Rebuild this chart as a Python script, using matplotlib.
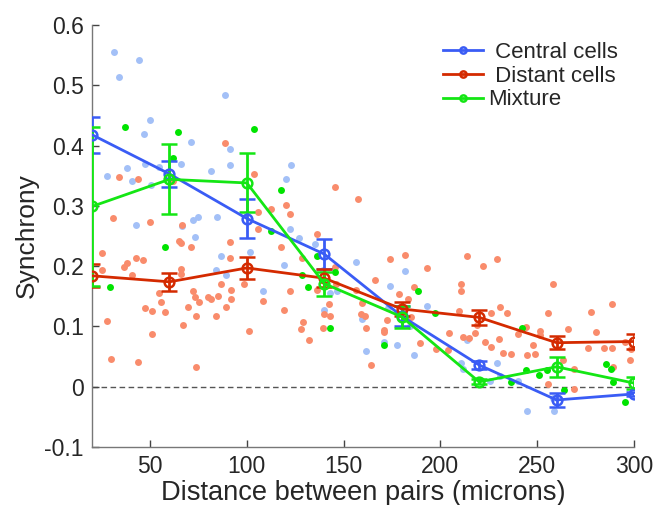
import matplotlib.pyplot as plt
from matplotlib.lines import Line2D

# bin centres for the averaged curves
dist = [20, 60, 100, 140, 180, 220, 260, 300]

central_mean = [0.418, 0.353, 0.279, 0.220, 0.117, 0.036, -0.022, -0.012]
central_err = [0.030, 0.022, 0.032, 0.025, 0.017, 0.007, 0.012, 0.003]
distant_mean = [0.184, 0.174, 0.197, 0.180, 0.129, 0.115, 0.073, 0.075]
distant_err = [0.019, 0.015, 0.018, 0.015, 0.012, 0.012, 0.011, 0.012]
mixture_mean = [0.299, 0.344, 0.338, 0.171, 0.116, 0.008, 0.033, 0.006]
mixture_err = [0.132, 0.058, 0.049, 0.020, 0.018, 0.004, 0.017, 0.010]

# individual pairs
central_x = [31.4, 44.1, 34.1, 88.6, 50.1, 46.7, 71.3, 91.2, 91.2, 65.8, 54.5, 47.6,
             37.9, 27.8, 40.7, 50.7, 81.7, 42.6, 72.2, 74.8, 84.8, 66.7, 73.1, 86.8,
             84.2, 89.4, 122.7, 120.1, 122.5, 127.0, 135.4, 101.5, 119.2, 108.4,
             139.2, 142.7, 146.5, 140.1, 156.6, 159.5, 161.8, 181.6, 173.7, 193.0,
             172.8, 184.5, 177.6, 170.8, 186.2, 213.8, 210.5, 211.8, 229.2, 225.6,
             230.8, 240.2, 244.9, 258.9, 258.4]
central_y = [0.555, 0.542, 0.514, 0.484, 0.442, 0.419, 0.406, 0.395, 0.368, 0.370,
             0.365, 0.370, 0.362, 0.350, 0.341, 0.334, 0.358, 0.268, 0.276, 0.281,
             0.281, 0.267, 0.249, 0.217, 0.193, 0.185, 0.368, 0.344, 0.262, 0.247,
             0.237, 0.224, 0.202, 0.159, 0.193, 0.155, 0.159, 0.127, 0.207, 0.112,
             0.059, 0.192, 0.167, 0.134, 0.130, 0.101, 0.070, 0.074, 0.053, 0.077,
             0.040, 0.030, 0.040, 0.010, 0.018, 0.010, -0.041, -0.041, -0.019]

distant_x = [88.6, 33.8, 43.8, 61.9, 31.0, 49.8, 66.5, 64.8, 65.8, 71.3, 91.2, 91.2,
             25.2, 25.2, 38.1, 36.5, 42.6, 46.4, 40.7, 66.2, 66.2, 54.5, 55.5, 57.9,
             47.2, 51.0, 72.4, 73.1, 75.1, 79.9, 81.7, 85.1, 86.8, 91.7, 91.7, 89.4,
             84.2, 69.6, 73.8, 67.1, 27.9, 51.0, 29.7, 43.8, 73.9,
             103.7, 105.9, 112.7, 105.8, 120.1, 122.5, 117.5, 145.4, 157.3, 136.1,
             128.5, 98.6, 122.5, 108.4, 119.2, 145.6, 146.0, 136.1, 142.3, 140.1,
             142.8, 139.5, 128.8, 128.0, 132.3, 101.3, 156.4, 159.5, 158.8, 161.2,
             161.8, 163.9,
             173.7, 181.6, 193.0, 166.4, 186.2, 178.6, 183.5, 184.7, 172.5, 170.8,
             171.0, 189.3, 197.8, 203.7, 204.4, 209.6, 211.8, 215.0, 217.9, 213.8,
             222.1, 229.0, 210.5, 210.7, 218.8, 225.9, 230.8, 234.3, 223.1, 225.9,
             230.2, 232.1, 236.7,
             258.2, 288.7, 255.8, 278.0, 244.3, 251.5, 251.5, 265.8, 240.2, 280.5,
             247.9, 248.6, 244.7, 263.3, 276.2, 284.5, 288.4, 295.1, 298.7, 297.7,
             289.1, 269.2, 255.8, 269.2]
distant_y = [0.404, 0.348, 0.344, 0.342, 0.280, 0.274, 0.269, 0.241, 0.238, 0.231,
             0.240, 0.214, 0.222, 0.194, 0.206, 0.199, 0.213, 0.210, 0.185, 0.195,
             0.187, 0.156, 0.140, 0.124, 0.130, 0.126, 0.159, 0.148, 0.140, 0.149,
             0.146, 0.151, 0.170, 0.161, 0.145, 0.133, 0.118, 0.133, 0.118, 0.102,
             0.109, 0.087, 0.046, 0.041, 0.032,
             0.353, 0.290, 0.294, 0.261, 0.302, 0.286, 0.231, 0.331, 0.311, 0.254,
             0.214, 0.171, 0.159, 0.142, 0.127, 0.199, 0.170, 0.160, 0.138, 0.121,
             0.118, 0.098, 0.107, 0.096, 0.077, 0.092, 0.161, 0.139, 0.120, 0.118,
             0.097, 0.036,
             0.212, 0.218, 0.197, 0.177, 0.165, 0.154, 0.146, 0.115, 0.111, 0.094,
             0.090, 0.073, 0.063, 0.061, 0.089, 0.126, 0.083, 0.081, 0.089, 0.217,
             0.201, 0.212, 0.170, 0.159, 0.102, 0.123, 0.133, 0.122, 0.074, 0.066,
             0.079, 0.056, 0.054,
             0.171, 0.137, 0.123, 0.124, 0.0995, 0.092, 0.085, 0.096, 0.087, 0.091,
             0.070, 0.055, 0.052, 0.044, 0.064, 0.065, 0.065, 0.074, 0.062, 0.044,
             0.032, 0.029, 0.004, -0.003]

mixture_x = [36.9, 64.4, 62.0, 57.6, 29.5, 103.7, 117.7, 112.7, 128.7, 131.6, 136.1,
             145.4, 142.8, 188.3, 197.2, 170.8, 236.7, 241.9, 244.1, 251.0, 255.3,
             263.9, 285.4, 288.2, 288.9, 295.5]
mixture_y = [0.431, 0.423, 0.379, 0.231, 0.166, 0.428, 0.327, 0.259, 0.185, 0.165,
             0.217, 0.190, 0.098, 0.159, 0.122, 0.070, 0.008, 0.098, 0.027, 0.020,
             0.028, -0.006, 0.037, 0.029, 0.008, -0.025]

yticks = [-0.1, 0, 0.1, 0.2, 0.3, 0.4, 0.5, 0.6]
ytick_labels = ["-0.1", "0", "0.1", "0.2", "0.3", "0.4", "0.5", "0.6"]
xticks = [50, 100, 150, 200, 250, 300]

plt.rcParams["font.family"] = ["Liberation Sans", "DejaVu Sans"]
text_col = "#262626"

fig = plt.figure(figsize=(6.55, 5.05), dpi=100)
ax = fig.add_axes([92 / 655, 1 - 447 / 505, (634 - 92) / 655, (447 - 25) / 505])

ax.axhline(0, color="#555555", lw=1, ls=(0, (4, 2.5)), zorder=1)

ax.scatter(central_x, central_y, s=25, color="#a3c0f7", lw=0, zorder=2)
ax.scatter(distant_x, distant_y, s=25, color="#f98c6c", lw=0, zorder=2)
ax.scatter(mixture_x, mixture_y, s=25, color="#00e400", lw=0, zorder=2)

series = [
    (central_mean, central_err, "#3a5cf5", " Central cells"),
    (distant_mean, distant_err, "#d42a00", " Distant cells"),
    (mixture_mean, mixture_err, "#14e614", "Mixture"),
]
handles = []
for mean, err, col, lab in series:
    ax.errorbar(dist, mean, yerr=err, color=col, lw=2, marker="o", ms=7,
                mfc="none", mec=col, mew=1.8, capsize=6, capthick=2,
                elinewidth=2, zorder=3)
    handles.append(Line2D([], [], color=col, lw=2, marker="o", ms=4.5,
                          mfc="none", mew=1.8, label=lab))

ax.set_xlim(20, 300)
ax.set_ylim(-0.1, 0.6)
ax.set_xticks(xticks)
ax.set_yticks(yticks)
ax.set_yticklabels(ytick_labels)
ax.tick_params(direction="in", length=5, width=1, color="#444444",
               labelsize=16.5, labelcolor=text_col, pad=6)
for s in ["top", "right"]:
    ax.spines[s].set_visible(False)
for s in ["left", "bottom"]:
    ax.spines[s].set_color("#777777")
    ax.spines[s].set_linewidth(1)

ax.set_xlabel("Distance between pairs (microns)", fontsize=19.6, color=text_col,
              labelpad=1)
ax.set_ylabel("Synchrony", fontsize=19, color=text_col, labelpad=4)

fig.legend(handles=handles, loc="upper left", bbox_to_anchor=(443 / 655, 1 - 42 / 505),
           frameon=False, fontsize=16, handlelength=1.8, handletextpad=0.25,
           labelspacing=0.12, borderpad=0, borderaxespad=0, labelcolor=text_col)

fig.savefig("out.png", dpi=100)
